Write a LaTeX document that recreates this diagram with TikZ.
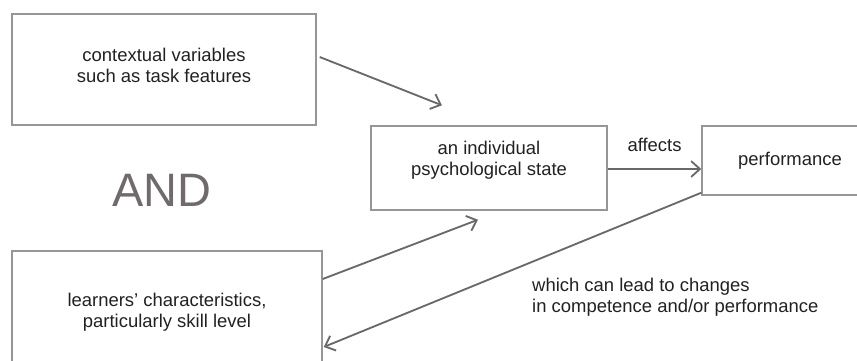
\documentclass[tikz,border=0pt]{standalone}
\usepackage{fontspec}
\setmainfont{Liberation Sans}
\usetikzlibrary{arrows.meta,calc}
\definecolor{boxgray}{RGB}{150,150,150}
\definecolor{arrowgray}{RGB}{105,105,105}
\definecolor{textgray}{RGB}{35,32,33}
\definecolor{andgray}{RGB}{112,106,108}
\begin{document}
\begin{tikzpicture}[x=0.02cm, y=-0.02cm,
    box/.style={draw=boxgray, line width=0.8pt, align=center, text=textgray,
        font=\fontsize{10.5}{12}\selectfont, inner sep=0pt},
    fleche/.style={draw=arrowgray, line width=1.05pt, -{Straight Barb[length=5pt,width=9pt]}},
    legende/.style={text=textgray, font=\fontsize{10.5}{12}\selectfont}]
                \useasboundingbox (0,0) rectangle (857,360);

                % Boites
                \node[box, minimum width=304*0.02cm, minimum height=111*0.02cm, text depth=5pt] (ctx) at (164,69.5)
                    {contextual variables\\such as task features};
                \node[box, minimum width=236*0.02cm, minimum height=84*0.02cm, text depth=11pt] (state) at (489,168)
                    {an individual\\psychological state};
                \node[box, minimum width=176*0.02cm, minimum height=69*0.02cm] (perf) at (790,160.5)
                    {performance};
                \node[box, minimum width=310*0.02cm, minimum height=122*0.02cm] (learn) at (167,312)
                    {learners' characteristics,\\particularly skill level};

                % AND
                \node[andgray, font=\fontsize{26.7}{30}\selectfont] (and) at (162,190) {AND};

                % Extremites libres
                \coordinate (ctxtip) at ($(state.north)+(-47,-20)$);
                \coordinate (learntip) at ($(state.south)+(-11,9)$);
                \coordinate (affstart) at ($(state.east)+(0,1)$);

                % Fleches
                \draw[fleche] ($(ctx.east)+(3,-12.5)$) -- (ctxtip);
                \draw[fleche] ($(learn.east)+(0,-33)$) -- (learntip);
                \draw[fleche] (affstart) -- (affstart -| perf.west)
                    node[legende, midway, above=6pt] (aff) {affects};
                \draw[fleche] ($(perf.south west)+(0,-3)$) -- ($(learn.east)+(1,35)$);

                % Legende
                \node[legende, align=left, anchor=west] (lead) at (526,297.5)
                    {which can lead to changes\\in competence and/or performance};
            \end{tikzpicture}
\end{document}
